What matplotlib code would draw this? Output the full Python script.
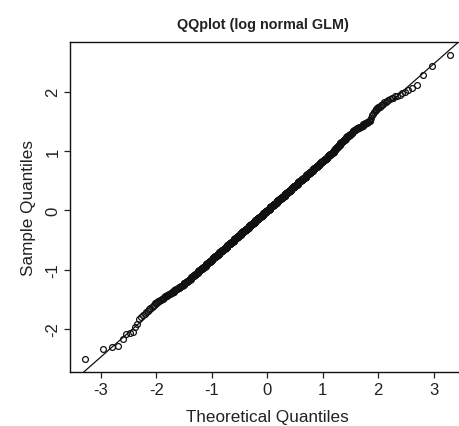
import numpy as np
import matplotlib
matplotlib.use("Agg")
import matplotlib.pyplot as plt
from statistics import NormalDist

plt.rcParams['font.family'] = ['Liberation Sans', 'DejaVu Sans']

# sorted residuals of the log normal GLM
# lowest residuals, one by one
low_tail = [-2.51, -2.33, -2.31, -2.29, -2.17, -2.08, -2.06, -2.05, -1.97, -1.92,
            -1.83, -1.79, -1.76, -1.74, -1.72, -1.70, -1.67, -1.65, -1.63, -1.61]

# bulk of the residuals as counts in 0.02 wide bins from -1.60 to 1.70
bin_start = -1.60
bin_width = 0.02
bin_counts = [
    1, 2, 1, 2, 2, 2, 2, 3, 2, 3, 3, 3, 3, 4, 3, 3, 4, 3, 4, 4,     # -1.6 .. -1.2
    3, 4, 4, 3, 4, 4, 5, 4, 4, 5,                                   # -1.2 .. -1.0
    5, 5, 5, 5, 5, 5, 6, 6, 5, 6,                                   # -1.0 .. -0.8
    6, 7, 6, 7, 7, 7, 7, 7, 7, 7,                                   # -0.8 .. -0.6
    7, 8, 8, 8, 8, 8, 8, 8, 8, 9,                                   # -0.6 .. -0.4
    9, 8, 9, 9, 9, 9, 9, 9, 9, 10,                                  # -0.4 .. -0.2
    9, 10, 9, 10, 9, 10, 9, 10, 9, 10,                              # -0.2 .. 0.0
    10, 9, 10, 9, 10, 9, 10, 9, 10, 9,                              # 0.0 .. 0.2
    10, 9, 9, 9, 9, 9, 9, 9, 8, 9,                                  # 0.2 .. 0.4
    9, 8, 8, 8, 8, 8, 8, 8, 8, 7,                                   # 0.4 .. 0.6
    7, 7, 7, 7, 7, 7, 7, 6, 7, 6,                                   # 0.6 .. 0.8
    6, 5, 6, 6, 5, 5, 5, 5, 5, 5,                                   # 0.8 .. 1.0
    3, 3, 3, 3, 3, 4, 3, 4, 3, 4,                                   # 1.0 .. 1.2
    3, 3, 4, 3, 3, 3, 3, 3, 3, 4,                                   # 1.2 .. 1.4
    4, 3, 3, 3, 2, 2, 1, 1, 0, 0,                                   # 1.4 .. 1.6
    1, 1, 1, 1, 1,                                                  # 1.6 .. 1.7
]

# highest residuals, one by one
high_tail = [1.71, 1.72, 1.74, 1.75, 1.77, 1.78, 1.80, 1.82, 1.83, 1.85,
             1.86, 1.88, 1.89, 1.90, 1.92, 1.93, 1.95, 1.97, 1.99, 2.03,
             2.07, 2.11, 2.29, 2.43, 2.62]

centers = bin_start + bin_width * (np.arange(len(bin_counts)) + 0.5)
resid = np.concatenate([low_tail, np.repeat(centers, bin_counts), high_tail])
resid = np.sort(resid)
n = len(resid)

# theoretical quantiles like R's qqnorm (ppoints with a = 0.5)
nd = NormalDist()
probs = (np.arange(1, n + 1) - 0.5) / n
theo = np.array([nd.inv_cdf(p) for p in probs])

# qqline through the quartiles
q1, q3 = np.quantile(resid, [0.25, 0.75])
z1, z3 = nd.inv_cdf(0.25), nd.inv_cdf(0.75)
slope = (q3 - q1) / (z3 - z1)
inter = q1 - slope * z1

fig = plt.figure(figsize=(4.59, 4.27), dpi=100)
ax = fig.add_axes([70 / 459, 54 / 427, 394.7 / 459, 330 / 427])

ax.plot(theo, resid, 'o', ms=4.2, mfc='none', mec='#111111', mew=0.9)
ax.axline((0, inter), slope=slope, color='#111111', lw=0.9)

ax.set_xlim(-3.56, 3.56)
ax.set_ylim(-2.725, 2.838)
ax.set_xticks([-3, -2, -1, 0, 1, 2, 3])
ax.set_yticks([-2, -1, 0, 1, 2])
ax.set_yticklabels(['-2', '-1', '0', '1', '2'], rotation=90, va='center')
ax.set_xticklabels(['-3', '-2', '-1', '0', '1', '2', '3'])
ax.tick_params(direction='out', length=4, width=0.9, colors='#222222',
               labelsize=12, pad=3)
for s in ax.spines.values():
    s.set_linewidth(1.0)
    s.set_color('#111111')

ax.set_xlabel('Theoretical Quantiles', fontsize=12.3, color='#222222', labelpad=9)
ax.set_ylabel('Sample Quantiles', fontsize=12.3, color='#222222', labelpad=7)
fig.text(263 / 459, 1 - 25 / 427, 'QQplot (log normal GLM)', ha='center', va='center',
         fontsize=10.4, fontweight='bold', color='#222222')

fig.savefig('out.png', dpi=100)
